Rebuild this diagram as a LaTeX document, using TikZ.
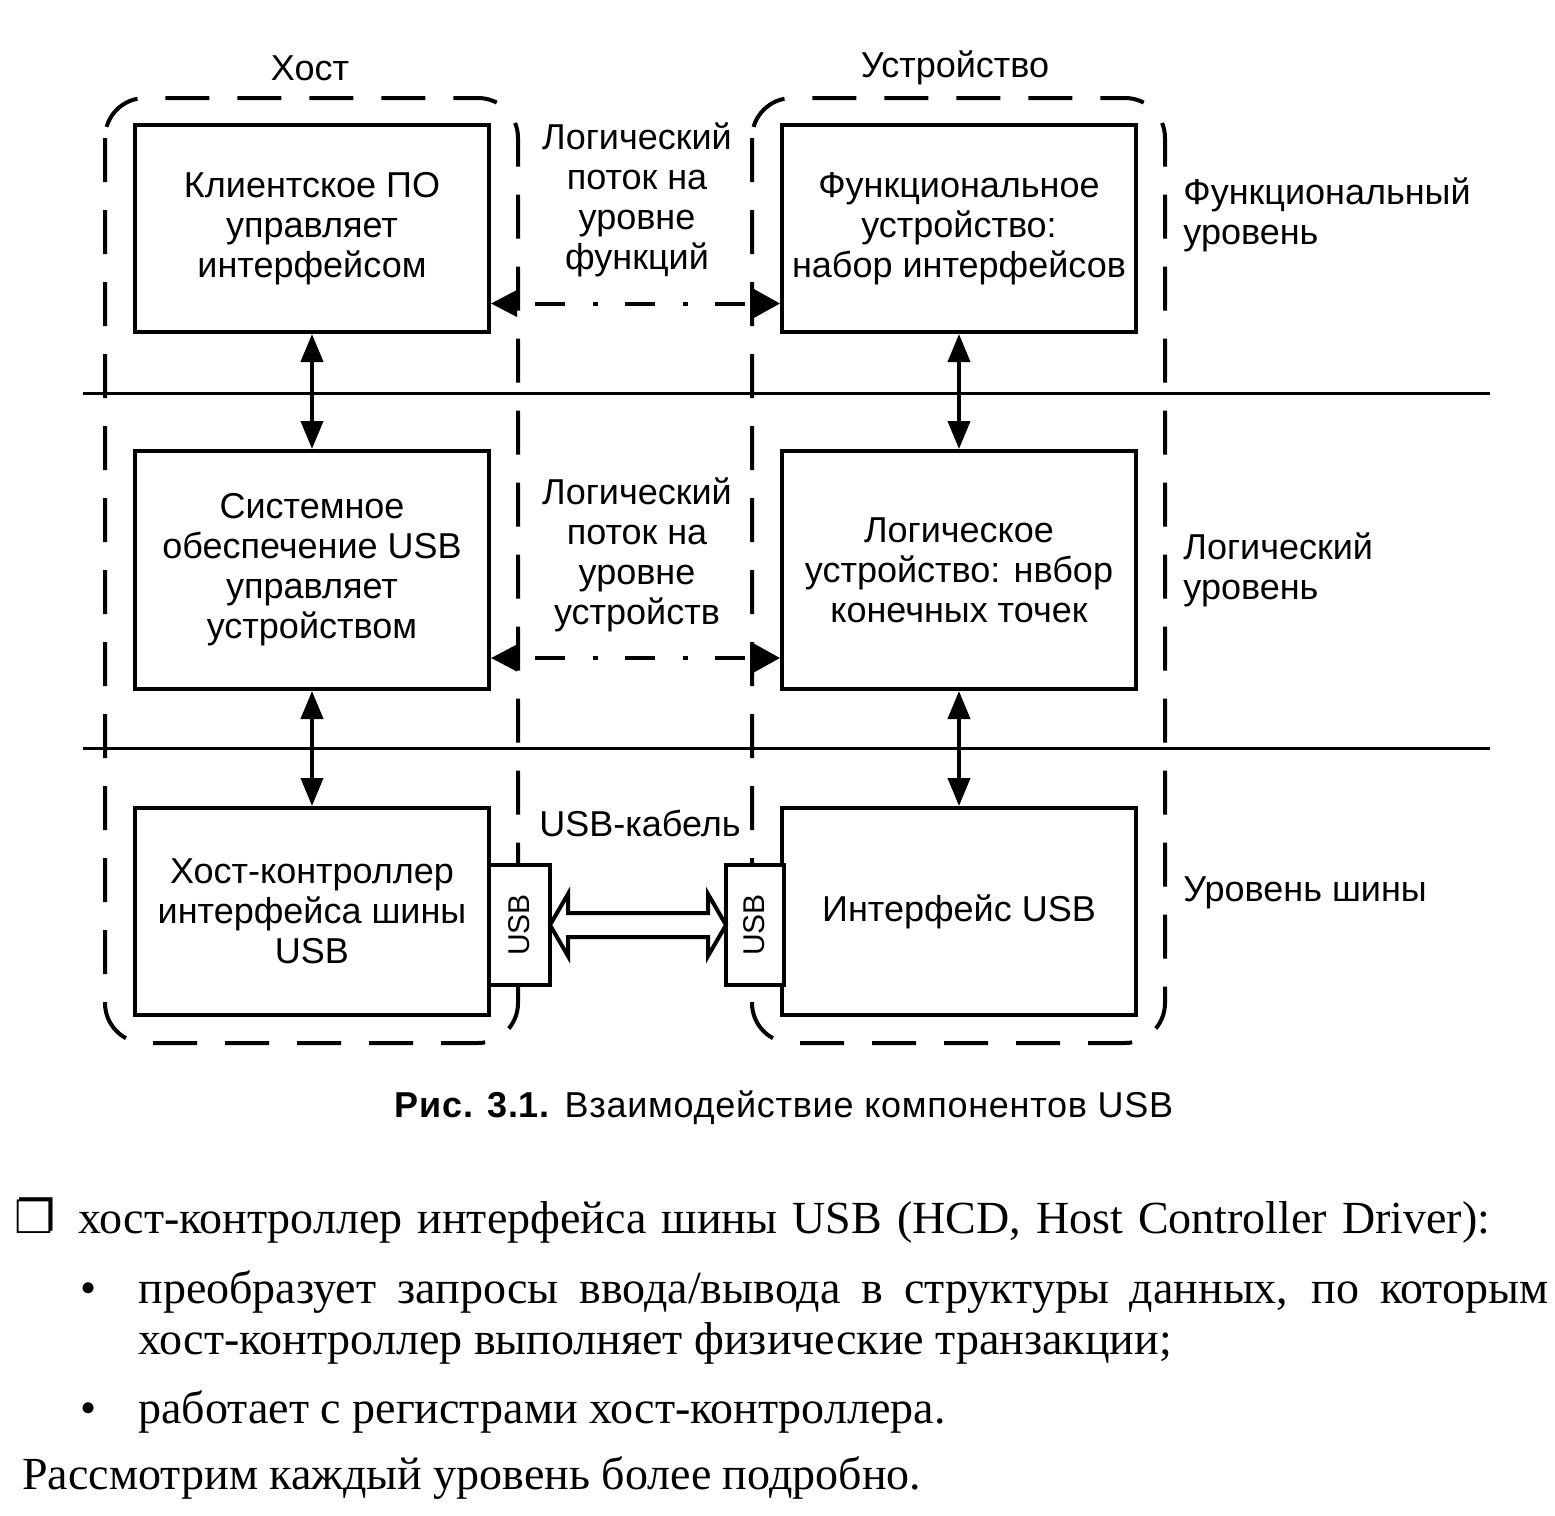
\documentclass[tikz,border=0pt]{standalone}
\usepackage{fontspec}
\setmainfont{Liberation Serif}
\setsansfont{Liberation Sans}
\newfontfamily\symfont{DejaVu Sans}
\usetikzlibrary{arrows.meta}
\begin{document}
\begin{tikzpicture}[x=0.5pt,y=-0.5pt,
  boxtxt/.style={font=\sffamily\fontsize{18}{20}\selectfont},
  box/.style={draw,line width=2pt,minimum width=177pt,align=center,boxtxt,inner sep=0pt},
  lbl/.style={align=center,boxtxt,inner sep=0pt},
  rlbl/.style={align=left,boxtxt,inner sep=0pt,anchor=west},
  frame/.style={line width=2pt,dash pattern=on 22pt off 14pt,rounded corners=20pt},
  vdarr/.style={line width=2pt,{Triangle[length=14pt,width=11pt]}-{Triangle[length=14pt,width=11pt]}},
  ddarr/.style={line width=2pt,dash pattern=on 15pt off 14pt on 2.5pt off 13.5pt,dash phase=35.5pt,{Triangle[length=13pt,width=13pt]}-{Triangle[length=14pt,width=15pt]}},
  usbbox/.style={draw,line width=2pt,fill=white,rotate=90,minimum width=60pt,inner sep=0pt,font=\sffamily\fontsize{15}{18}\selectfont},
  bodytxt/.style={font=\fontsize{23}{26}\selectfont,inner sep=0pt,anchor=base west}
]
\useasboundingbox[fill=white] (0,0) rectangle (1555,1516);

% headers
\node[lbl] (hhost) at (310,68) {Хост};
\node[lbl] (hdev) at (955,68) {Устройство};

% dashed frames
\draw[frame] (105,98) rectangle (518,1043);
\draw[frame] (752,98) rectangle (1165,1043);

% level separators
\draw[line width=1.5pt] (83,393) -- (1490,393);
\draw[line width=1.5pt] (83,748) -- (1490,748);

% host boxes
\node[box,minimum height=103.5pt] (c1) at (312,228.5) {Клиентское ПО\\управляет\\интерфейсом};
\node[box,minimum height=119pt] (c2) at (312,570) {Системное\\обеспечение USB\\управляет\\устройством};
\node[box,minimum height=103.5pt] (c3) at (312,911.5) {Хост-контроллер\\интерфейса шины\\USB};

% device boxes
\node[box,minimum height=103.5pt] (f1) at (959,228.5) {Функциональное\\устройство:\\набор интерфейсов};
\node[box,minimum height=119pt] (f2) at (959,570) {Логическое\\устройство: нвбор\\конечных точек};
\node[box,minimum height=103.5pt] (f3) at (959,911.5) {Интерфейс USB};

% vertical arrows
\draw[vdarr] (c1.south) -- (c2.north);
\draw[vdarr] (c2.south) -- (c3.north);
\draw[vdarr] (f1.south) -- (f2.north);
\draw[vdarr] (f2.south) -- (f3.north);

% logical flows
\draw[ddarr] ([yshift=-37.5pt]c1.east) -- ([yshift=-37.5pt]f1.west);
\draw[ddarr] ([yshift=-44pt]c2.east) -- ([yshift=-44pt]f2.west);

% middle labels
\node[lbl] (m1) at (637,200) {Логический\\поток на\\уровне\\функций};
\node[lbl] (m2) at (637,555) {Логический\\поток на\\уровне\\устройств};
\node[lbl] (m3) at (640,823) {USB-кабель};

% USB connectors
\node[usbbox,minimum height=30.5pt] (uL) at (519.5,925) {USB};
\node[usbbox,minimum height=29pt] (uR) at (754.5,925) {USB};
\draw[line width=2pt,fill=white,line join=miter]
  (550,925) -- (568,894) -- (568,913) -- (708,913) -- (708,894) -- (726,925)
  -- (708,956) -- (708,937) -- (568,937) -- (568,956) -- cycle;

% right labels
\node[rlbl] (r1) at (1183,215) {Функциональный\\уровень};
\node[rlbl] (r2) at (1183,570) {Логический\\уровень};
\node[rlbl] (r3) at (1183,893) {Уровень шины};

% caption
\node[inner sep=0pt,font=\sffamily\fontsize{18}{20}\selectfont\addfontfeatures{LetterSpace=2}] (cap) at (784,1108) {\textbf{Рис. 3.1.} Взаимодействие компонентов USB};

% body text
\node[bodytxt] (sq) at (14,1233) {{\symfont ❐}};
\node[bodytxt] (t1) at (78,1233) {\makebox[706pt][s]{хост-контроллер интерфейса шины USB (HCD, Host Controller Driver):}};
\node[bodytxt] (b1) at (80,1303) {•};
\node[bodytxt] (t2) at (138,1303) {\makebox[705pt][s]{преобразует запросы ввода/вывода в структуры данных, по которым}};
\node[bodytxt] (t3) at (138,1354) {хост-контроллер выполняет физические транзакции;};
\node[bodytxt] (b2) at (80,1423) {•};
\node[bodytxt] (t4) at (138,1423) {работает с регистрами хост-контроллера.};
\node[bodytxt] (t5) at (22,1489) {Рассмотрим каждый уровень более подробно.};
\end{tikzpicture}
\end{document}
